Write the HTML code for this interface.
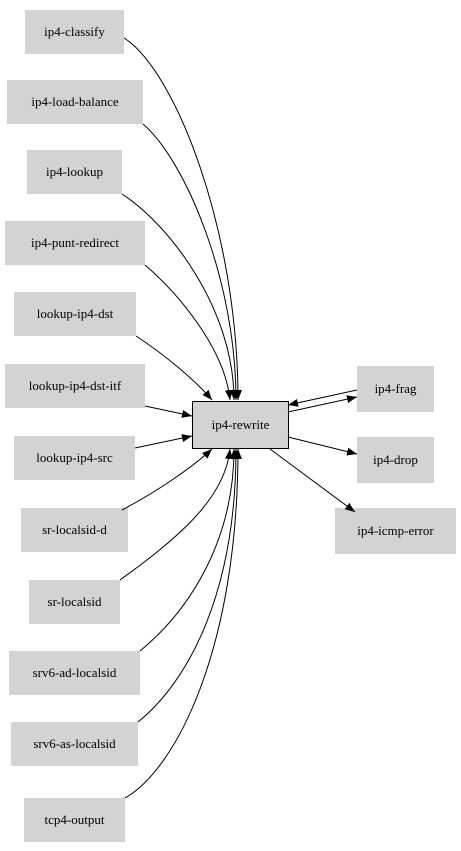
<!DOCTYPE html>
<html><head><meta charset="utf-8"><style>
html,body{margin:0;padding:0;background:#fff;}
svg{display:block;}
text{font-family:"Liberation Serif",serif;font-size:13px;fill:#000;}
</style></head><body>
<svg width="461" height="851" viewBox="0 0 461 851" xmlns="http://www.w3.org/2000/svg">
<defs>
<marker id="a" viewBox="0 0 10 10" refX="10" refY="5" markerWidth="10" markerHeight="10" markerUnits="userSpaceOnUse" orient="auto">
<path d="M0,1 L10,5 L0,9 z" fill="#000"/>
</marker>
</defs>
<g fill="#d3d3d3">
<rect x="25" y="10" width="99" height="44"/>
<rect x="7" y="80" width="136" height="44"/>
<rect x="27" y="150" width="95" height="44"/>
<rect x="5" y="221" width="140" height="44"/>
<rect x="14" y="292" width="122" height="44"/>
<rect x="5" y="364" width="140" height="44"/>
<rect x="14" y="436" width="121" height="44"/>
<rect x="21" y="508" width="107" height="44"/>
<rect x="29" y="580" width="91" height="44"/>
<rect x="9" y="651" width="131" height="44"/>
<rect x="11" y="722" width="127" height="44"/>
<rect x="24" y="798" width="101" height="44"/>
<rect x="357" y="366" width="77" height="46"/>
<rect x="357" y="437" width="77" height="46"/>
<rect x="335" y="508" width="121" height="46"/>
</g>
<rect x="192.5" y="401.5" width="96" height="47" fill="#d3d3d3" stroke="#000" stroke-width="1"/>
<g text-anchor="middle">
<text x="74.5" y="36">ip4-classify</text>
<text x="75" y="106">ip4-load-balance</text>
<text x="74.5" y="176">ip4-lookup</text>
<text x="75" y="247">ip4-punt-redirect</text>
<text x="75" y="318">lookup-ip4-dst</text>
<text x="75" y="390">lookup-ip4-dst-itf</text>
<text x="74.5" y="462">lookup-ip4-src</text>
<text x="74.5" y="534">sr-localsid-d</text>
<text x="74.5" y="606">sr-localsid</text>
<text x="74.5" y="677">srv6-ad-localsid</text>
<text x="74.5" y="748">srv6-as-localsid</text>
<text x="74.5" y="824">tcp4-output</text>
<text x="240.5" y="429">ip4-rewrite</text>
<text x="395.5" y="393">ip4-frag</text>
<text x="395.5" y="464">ip4-drop</text>
<text x="395.5" y="535">ip4-icmp-error</text>
</g>
<g fill="none" stroke="#000" stroke-width="1" marker-end="url(#a)">
<path d="M124,38 C175,70 238,230 238,400"/>
<path d="M143,124 C185,160 236,280 236,400"/>
<path d="M122,194 C170,225 234,310 234,400"/>
<path d="M145,265 C180,295 225,350 230,400"/>
<path d="M136,336 C165,355 195,380 212,400"/>
<path d="M145,406 L192,416"/>
<path d="M135,448 L192,436"/>
<path d="M122,510 C160,490 195,465 212,449"/>
<path d="M120,580 C175,540 225,500 230,449"/>
<path d="M140,651 C190,610 234,540 234,449"/>
<path d="M138,722 C190,680 236,590 236,449"/>
<path d="M125,798 C175,770 238,650 238,449"/>
<path d="M288,412 L357,397"/>
<path d="M357,390 L288,405"/>
<path d="M288,437 L357,454"/>
<path d="M270,449 L355,512"/>
</g>
</svg>
</body></html>
